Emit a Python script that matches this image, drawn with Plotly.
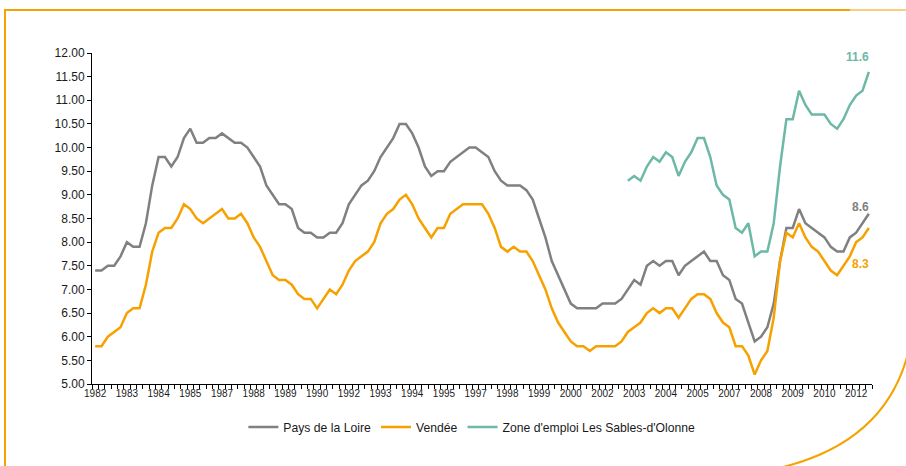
import plotly.graph_objects as go

# ---- data (quarterly, 1982 T1 .. 2012 T3) ----
years = list(range(1982, 2013))
quarters = [f"{y}T{q}" for y in years for q in range(1, 5)][:123]
tick_every = 5

pays_de_la_loire = [
    7.4, 7.4, 7.5, 7.5, 7.7, 8.0, 7.9, 7.9, 8.4, 9.2, 9.8, 9.8,
    9.6, 9.8, 10.2, 10.4, 10.1, 10.1, 10.2, 10.2, 10.3, 10.2, 10.1, 10.1,
    10.0, 9.8, 9.6, 9.2, 9.0, 8.8, 8.8, 8.7, 8.3, 8.2, 8.2, 8.1,
    8.1, 8.2, 8.2, 8.4, 8.8, 9.0, 9.2, 9.3, 9.5, 9.8, 10.0, 10.2,
    10.5, 10.5, 10.3, 10.0, 9.6, 9.4, 9.5, 9.5, 9.7, 9.8, 9.9, 10.0,
    10.0, 9.9, 9.8, 9.5, 9.3, 9.2, 9.2, 9.2, 9.1, 8.9, 8.5, 8.1,
    7.6, 7.3, 7.0, 6.7, 6.6, 6.6, 6.6, 6.6, 6.7, 6.7, 6.7, 6.8,
    7.0, 7.2, 7.1, 7.5, 7.6, 7.5, 7.6, 7.6, 7.3, 7.5, 7.6, 7.7,
    7.8, 7.6, 7.6, 7.3, 7.2, 6.8, 6.7, 6.3, 5.9, 6.0, 6.2, 6.7,
    7.6, 8.3, 8.3, 8.7, 8.4, 8.3, 8.2, 8.1, 7.9, 7.8, 7.8, 8.1,
    8.2, 8.4, 8.6,
]
vendee = [
    5.8, 5.8, 6.0, 6.1, 6.2, 6.5, 6.6, 6.6, 7.1, 7.8, 8.2, 8.3,
    8.3, 8.5, 8.8, 8.7, 8.5, 8.4, 8.5, 8.6, 8.7, 8.5, 8.5, 8.6,
    8.4, 8.1, 7.9, 7.6, 7.3, 7.2, 7.2, 7.1, 6.9, 6.8, 6.8, 6.6,
    6.8, 7.0, 6.9, 7.1, 7.4, 7.6, 7.7, 7.8, 8.0, 8.4, 8.6, 8.7,
    8.9, 9.0, 8.8, 8.5, 8.3, 8.1, 8.3, 8.3, 8.6, 8.7, 8.8, 8.8,
    8.8, 8.8, 8.6, 8.3, 7.9, 7.8, 7.9, 7.8, 7.8, 7.6, 7.3, 7.0,
    6.6, 6.3, 6.1, 5.9, 5.8, 5.8, 5.7, 5.8, 5.8, 5.8, 5.8, 5.9,
    6.1, 6.2, 6.3, 6.5, 6.6, 6.5, 6.6, 6.6, 6.4, 6.6, 6.8, 6.9,
    6.9, 6.8, 6.5, 6.3, 6.2, 5.8, 5.8, 5.6, 5.2, 5.5, 5.7, 6.4,
    7.6, 8.2, 8.1, 8.4, 8.1, 7.9, 7.8, 7.6, 7.4, 7.3, 7.5, 7.7,
    8.0, 8.1, 8.3,
]
sables_start = 84  # first quarter with data (2003 T1)
sables = [None] * sables_start + [
    9.3, 9.4, 9.3, 9.6, 9.8, 9.7, 9.9, 9.8, 9.4, 9.7, 9.9, 10.2,
    10.2, 9.8, 9.2, 9.0, 8.9, 8.3, 8.2, 8.4, 7.7, 7.8, 7.8, 8.4,
    9.6, 10.6, 10.6, 11.2, 10.9, 10.7, 10.7, 10.7, 10.5, 10.4, 10.6, 10.9,
    11.1, 11.2, 11.6,
]
names = ["Pays de la Loire", "Vendée", "Zone d'emploi Les Sables-d'Olonne"]
tick_text = [q[:4] if i % tick_every == 0 else "" for i, q in enumerate(quarters)]

GRAY = "#808080"
ORANGE = "#F7A100"
TEAL = "#6DB8A6"
FRAME = "#F5A300"

fig = go.Figure()
for name, vals, col in zip(names, [pays_de_la_loire, vendee, sables], [GRAY, ORANGE, TEAL]):
    fig.add_trace(go.Scatter(x=quarters, y=vals, name=name, mode="lines",
                             line=dict(color=col, width=2.5), connectgaps=False))

# end labels
last = quarters[-1]
for vals, col, ys in [(sables, TEAL, 15), (pays_de_la_loire, GRAY, 7), (vendee, ORANGE, -36)]:
    fig.add_annotation(x=last, y=vals[-1], text=f"<b>{vals[-1]:.1f}</b>", showarrow=False,
                       xanchor="right", yanchor="middle", xshift=2, yshift=ys,
                       font=dict(family="Liberation Sans, Arial", size=12, color=col))

# frame decoration (pixel -> paper conversion)
L, R, T, B = 92, 34, 53, 82
W, H = 906, 466
pw, ph = W - L - R, H - T - B
px = lambda x: (x - L) / pw
py = lambda y: (H - B - y) / ph
fig.add_shape(type="line", xref="paper", yref="paper", x0=px(4), y0=py(10), x1=px(850), y1=py(10),
              line=dict(color=FRAME, width=2))
fig.add_shape(type="line", xref="paper", yref="paper", x0=px(850), y0=py(10), x1=px(906), y1=py(10),
              line=dict(color="#F9CE80", width=2))
fig.add_shape(type="line", xref="paper", yref="paper", x0=px(5), y0=py(10), x1=px(5), y1=py(470),
              line=dict(color=FRAME, width=2))
fig.add_shape(type="path", xref="paper", yref="paper",
              path=f"M {px(783)} {py(467)} Q {px(890)} {py(440)} {px(910)} {py(345)}",
              line=dict(color=FRAME, width=2))

fig.update_layout(
    width=W, height=H,
    margin=dict(l=L, r=R, t=T, b=B),
    plot_bgcolor="white", paper_bgcolor="white",
    font=dict(family="Liberation Sans, Arial", color="#1a1a1a"),
    showlegend=True,
    legend=dict(orientation="h", x=0.487, xanchor="center", y=-0.13, yanchor="middle",
                font=dict(size=12.2, color="#1a1a1a"), bgcolor="rgba(0,0,0,0)",
                itemwidth=30, tracegroupgap=0),
)
fig.update_xaxes(
    type="category", range=[-0.5, len(quarters) - 0.5],
    tickmode="array", tickvals=quarters, ticktext=tick_text,
    tickson="boundaries", ticks="outside", ticklen=4, tickwidth=1, tickcolor="#000",
    showline=True, linecolor="#000", linewidth=1, showgrid=False, zeroline=False,
    tickfont=dict(size=10, color="#1a1a1a"), tickangle=0,
)
fig.update_yaxes(
    range=[5, 12], tickmode="linear", tick0=5, dtick=0.5, tickformat=".2f",
    ticks="outside", ticklen=4, tickwidth=1, tickcolor="#000",
    showline=True, linecolor="#000", linewidth=1, showgrid=False, zeroline=False,
    tickfont=dict(size=12, color="#1a1a1a"),
)

fig.write_html("out.html", config={"displayModeBar": False},
               post_script="document.body.style.margin='0';document.body.style.overflow='hidden';")
